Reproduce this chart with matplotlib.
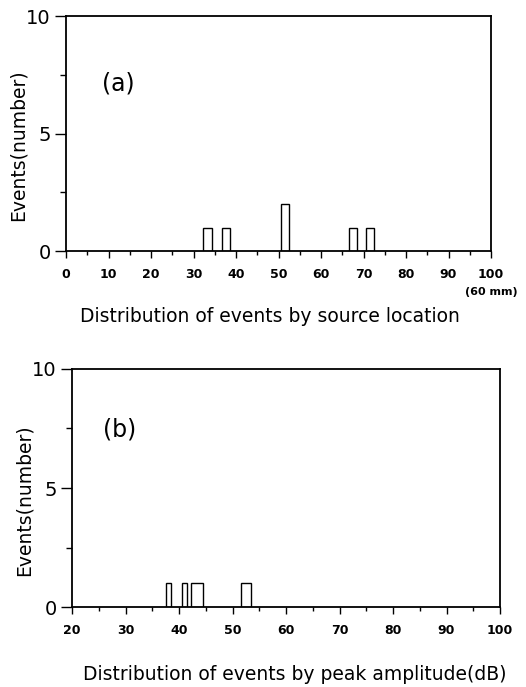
import matplotlib.pyplot as plt
import numpy as np

# source location histogram (bin centre, width, count)
loc_centres = [33.3, 37.6, 51.5, 67.5, 71.5]
loc_widths = [2.0, 2.0, 2.0, 2.0, 2.0]
loc_counts = [1, 1, 2, 1, 1]

# peak amplitude histogram (dB)
amp_centres = [38.0, 41.0, 43.4, 52.5]
amp_widths = [1.0, 1.0, 2.2, 2.0]
amp_counts = [1, 1, 1, 1]

loc_ticks = list(range(0, 101, 10))
amp_ticks = list(range(20, 101, 10))

fig = plt.figure(figsize=(5.26, 6.87), dpi=100)
ax_a = fig.add_axes([0.1255, 0.6346, 0.808, 0.342])
ax_b = fig.add_axes([0.137, 0.1164, 0.8136, 0.3465])


def style_axes(ax, xlim, xticks):
    ax.set_xlim(*xlim)
    ax.set_ylim(0, 10)
    for s in ax.spines.values():
        s.set_linewidth(1.3)
    ax.set_xticks(xticks)
    ax.set_xticks(np.arange(xlim[0], xlim[1] + 1, 5), minor=True)
    ax.set_yticks([0, 5, 10])
    ax.set_yticks([2.5, 7.5], minor=True)
    ax.tick_params(axis="x", which="major", length=5, width=1, labelsize=9, pad=7)
    ax.tick_params(axis="x", which="minor", length=3, width=1)
    ax.tick_params(axis="y", which="major", length=8, width=1, labelsize=14, pad=3)
    ax.tick_params(axis="y", which="minor", length=4, width=1)
    for lab in ax.get_xticklabels():
        lab.set_fontweight("bold")
    ax.set_ylabel("Events(number)", fontsize=13.5)
    ax.yaxis.set_label_coords(-0.09, 0.45)


# (a) source location
ax_a.bar(loc_centres, loc_counts, width=loc_widths, fill=False,
         edgecolor="black", linewidth=1.0)
style_axes(ax_a, (0, 100), loc_ticks)
ax_a.text(8.5, 7.15, "(a)", fontsize=17, va="center")
ax_a.text(100, -1.55, "(60 mm)", fontsize=8, ha="center", va="top",
          fontweight="bold")
ax_a.set_xlabel("Distribution of events by source location", fontsize=13.5)
ax_a.xaxis.set_label_coords(0.48, -0.238)

# (b) peak amplitude
ax_b.bar(amp_centres, amp_counts, width=amp_widths, fill=False,
         edgecolor="black", linewidth=1.0)
style_axes(ax_b, (20, 100), amp_ticks)
ax_b.text(25.8, 7.44, "(b)", fontsize=17, va="center")
ax_b.set_xlabel("Distribution of events by peak amplitude(dB)", fontsize=13.5)
ax_b.xaxis.set_label_coords(0.521, -0.245)

fig.savefig("out.png", dpi=100)
